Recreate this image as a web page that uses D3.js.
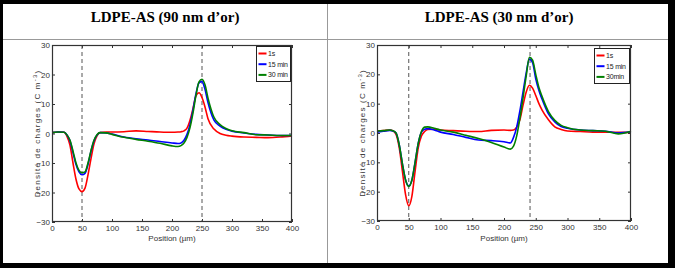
<!DOCTYPE html>
<html>
<head>
<meta charset="utf-8">
<script src="https://cdn.jsdelivr.net/npm/d3@7"></script>
<style>
  body { margin: 0; background: #fff; }
  svg { display: block; }
  .tick text { font-family: "Liberation Sans Narrow", "Liberation Sans", Arial, sans-serif; font-size: 8px; fill: #333; }
  .tick line { stroke: #333; }
</style>
</head>
<body>
<div id="chart"></div>
<script>
// Position (µm) shared by all curves
const positions = [0, 10, 20, 25, 30, 35, 40, 45, 50, 55, 60, 65, 70, 75, 80, 90, 100, 120, 140, 160, 180,
  200, 210, 215, 220, 225, 230, 235, 240, 245, 250, 255, 260, 270, 280, 290, 300, 320, 340, 360, 380, 400];

// LDPE-AS 90 nm
const p1Red = [0.3, 0.5, 0.4, -1, -4, -10, -15.5, -18.8, -19.7, -18.5, -14, -8.5, -3.5, -0.8, 0.3, 0.5, 0.5, 0.6, 0.9, 0.7, 0.5,
  0.4, 0.5, 0.6, 0.9, 1.8, 4.5, 8.5, 12.8, 13.8, 12.2, 9, 5, 1.5, 0, -0.6, -0.9, -1.2, -1.3, -1.4, -1.2, -0.8];
const p1Blue = [0.3, 0.5, 0.4, -0.5, -2.5, -6.5, -10.5, -13, -14, -13.5, -10.5, -6, -2.5, -0.5, 0.3, 0.2, -0.2, -1.2, -1.8, -2.2, -2.7,
  -3.2, -3.4, -3.2, -2.3, -0.3, 3, 8, 13.5, 17.2, 17.6, 15, 10.5, 4.5, 2.5, 1.4, 0.8, 0.2, -0.3, -0.5, -0.7, -0.7];
const p1Green = [0.3, 0.5, 0.4, -0.5, -2.3, -6, -10, -12.5, -13.3, -13, -10, -5.8, -2.3, -0.4, 0.3, 0.2, -0.3, -1.3, -2, -2.6, -3.3,
  -4.2, -4.4, -4.1, -3.2, -1.3, 2, 7, 13, 17.5, 18.4, 16.5, 12, 5.5, 3, 1.7, 0.9, 0.3, -0.4, -0.5, -0.7, -0.7];

// LDPE-AS 30 nm
const p2Red = [0.7, 0.8, 1.0, 0.8, -0.5, -5, -13, -21, -24.8, -21.5, -13, -5, -1, 0.5, 1.2, 1.3, 1.0, 0.8, 0.6, 0.5, 0.9,
  1.0, 0.9, 1.0, 2.0, 4.5, 9.5, 14, 16.3, 15.3, 12.8, 10, 7.8, 4.5, 2.1, 1.2, 0.7, 0.5, 0.3, 0.3, 0.2, 0.3];
const p2Blue = [0.3, 0.6, 0.9, 0.7, 0, -4, -10.5, -16, -18, -16, -10, -3.5, 0.3, 1.3, 1.5, 1.0, 0.3, -0.5, -1.5, -2.4, -2.6,
  -3, -3.4, -1.5, 2, 7.5, 14, 20.5, 25.2, 24, 18.5, 14.5, 11.5, 6.5, 3.8, 2.2, 1.6, 1.0, 0.8, 0.6, 0, 0.4];
const p2Green = [0.7, 0.8, 1.0, 0.8, 0, -4, -10.5, -16, -18.2, -16, -10, -3.5, 0.5, 2, 2.1, 1.6, 1.0, 0.3, -0.8, -1.9, -3.2,
  -4.8, -5.5, -4.5, -1, 5, 12, 19.5, 25.8, 24.8, 20, 15.5, 12.4, 7.3, 4.3, 2.6, 1.8, 1.0, 0.8, 0.6, -0.3, 0.6];

const xTicks = [0, 50, 100, 150, 200, 250, 300, 350, 400];
const yTicks = [-30, -20, -10, 0, 10, 20, 30];
const colors = ["#ff0000", "#0000ff", "#008000"];

const W = 675, H = 268;
const svg = d3.select("#chart").append("svg").attr("width", W).attr("height", H);

// table frame
svg.append("rect").attr("x", 0).attr("y", 0).attr("width", W).attr("height", 4).attr("fill", "#000");
svg.append("rect").attr("x", 0).attr("y", 0).attr("width", 3).attr("height", H).attr("fill", "#000");
svg.append("rect").attr("x", 668).attr("y", 0).attr("width", 7).attr("height", H).attr("fill", "#000");
svg.append("rect").attr("x", 0).attr("y", 263).attr("width", W).attr("height", 5).attr("fill", "#000");
svg.append("line").attr("x1", 3).attr("x2", 668).attr("y1", 39.5).attr("y2", 39.5).attr("stroke", "#999");
svg.append("line").attr("x1", 327.5).attr("x2", 327.5).attr("y1", 4).attr("y2", 263).attr("stroke", "#999");

function drawPanel(p) {
    svg.append("text")
        .attr("x", p.titleX).attr("y", 22)
        .attr("text-anchor", "middle")
        .attr("font-family", "'Liberation Serif', 'Times New Roman', serif")
        .attr("font-weight", "bold").attr("font-size", "15px")
        .text(p.title);

    const x = d3.scaleLinear().domain([0, 400]).range([p.left, p.right]);
    const y = d3.scaleLinear().domain([-30, 30]).range([p.bottom, p.top]);

    svg.append("g").attr("transform", `translate(0,${p.bottom})`)
        .call(d3.axisBottom(x).tickValues(xTicks).tickSizeInner(-3).tickSizeOuter(0).tickPadding(3))
        .call(g => g.select(".domain").remove());
    svg.append("g").attr("transform", `translate(0,${p.top})`)
        .call(d3.axisTop(x).tickValues(xTicks).tickSizeInner(-3).tickSizeOuter(0).tickFormat(""))
        .call(g => g.select(".domain").remove());
    svg.append("g").attr("transform", `translate(${p.left},0)`)
        .call(d3.axisLeft(y).tickValues(yTicks).tickSizeInner(-3).tickSizeOuter(0).tickPadding(2))
        .call(g => g.select(".domain").remove());
    svg.append("g").attr("transform", `translate(${p.right},0)`)
        .call(d3.axisRight(y).tickValues(yTicks).tickSizeInner(-3).tickSizeOuter(0).tickFormat(""))
        .call(g => g.select(".domain").remove());

    // dashed markers
    p.dashes.forEach(v => {
        svg.append("line")
            .attr("x1", x(v)).attr("x2", x(v))
            .attr("y1", p.top).attr("y2", p.bottom)
            .attr("stroke", "#555").attr("stroke-width", 1)
            .attr("stroke-dasharray", "4,3");
    });

    const line = d3.line()
        .x((d, i) => x(positions[i]))
        .y(d => y(d))
        .curve(d3.curveMonotoneX);

    p.series.forEach((s, i) => {
        svg.append("path")
            .datum(s)
            .attr("fill", "none")
            .attr("stroke", colors[i])
            .attr("stroke-width", 1.6)
            .attr("d", line);
    });

    svg.append("rect")
        .attr("x", p.left + 0.5).attr("y", p.top + 0.5)
        .attr("width", p.right - p.left - 1).attr("height", p.bottom - p.top - 1)
        .attr("fill", "none").attr("stroke", "#333").attr("stroke-width", 1.2);

    // legend
    const lg = svg.append("g").attr("transform", `translate(${p.legX},${p.legY})`);
    lg.append("rect")
        .attr("x", 0.5).attr("y", 0.5).attr("width", p.legW).attr("height", 35)
        .attr("fill", "#fff").attr("stroke", "#222").attr("stroke-width", 1);
    p.labels.forEach((lab, i) => {
        const ly = 7.5 + i * 10.7;
        lg.append("line")
            .attr("x1", 2.5).attr("x2", 10.5).attr("y1", ly).attr("y2", ly)
            .attr("stroke", colors[i]).attr("stroke-width", 2);
        lg.append("text")
            .attr("x", 12).attr("y", ly + 2.5)
            .attr("font-family", "'Liberation Sans Narrow', 'Liberation Sans', Arial, sans-serif")
            .attr("font-size", "7px").attr("fill", "#222")
            .attr("letter-spacing", "-0.2px")
            .text(lab);
    });

    svg.append("text")
        .attr("x", (p.left + p.right) / 2).attr("y", 241)
        .attr("text-anchor", "middle")
        .attr("font-family", "'Liberation Sans Narrow', 'Liberation Sans', Arial, sans-serif")
        .attr("font-size", "8px").attr("fill", "#333")
        .text("Position (µm)");

    const yl = svg.append("text")
        .attr("transform", `translate(${p.ylabX},${(p.top + p.bottom) / 2}) rotate(-90)`)
        .attr("text-anchor", "middle")
        .attr("font-family", "'Liberation Sans Narrow', 'Liberation Sans', Arial, sans-serif")
        .attr("font-size", "8px").attr("fill", "#333")
        .attr("letter-spacing", "1.2px");
    yl.append("tspan").text("Densité de charges (C m");
    yl.append("tspan").attr("dy", -3).attr("font-size", "6px").text("-3");
    yl.append("tspan").attr("dy", 3).text(")");
}

drawPanel({
    title: "LDPE-AS (90 nm d’or)", titleX: 165,
    left: 52, right: 292, top: 45, bottom: 222,
    dashes: [50, 250],
    series: [p1Red, p1Blue, p1Green],
    labels: ["1s", "15 min", "30 min"],
    legX: 256, legY: 46, legW: 34,
    ylabX: 40
});

drawPanel({
    title: "LDPE-AS (30 nm d’or)", titleX: 499,
    left: 377, right: 631, top: 45, bottom: 221,
    dashes: [50, 241],
    series: [p2Red, p2Blue, p2Green],
    labels: ["1s", "15 min", "30min"],
    legX: 594, legY: 48, legW: 35,
    ylabX: 365
});
</script>
</body>
</html>
